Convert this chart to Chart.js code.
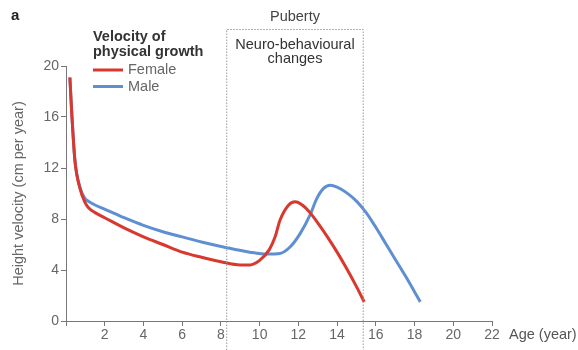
<!DOCTYPE html>
<html>
<head>
<meta charset="utf-8">
<script src="https://cdn.jsdelivr.net/npm/chart.js@4"></script>
<style>
  body { margin: 0; background: #fff; }
  #wrap { width: 578px; height: 350px; position: relative; }
</style>
</head>
<body>
<div id="wrap"><canvas id="myChart"></canvas></div>
<script>
// ages (years) and height velocity (cm per year)
const femaleAge = [0.2, 0.29, 0.46, 0.72, 0.98, 1.15, 1.5, 2, 3, 4, 5, 6, 7, 8, 9, 9.5, 10, 10.5, 10.8, 11.05, 11.5, 11.83, 12.2, 12.6, 13.0, 13.5, 14.0, 14.5, 15.0, 15.4]
const femaleVel = [19.1, 16.5, 12.6, 10.4, 9.3, 8.9, 8.5, 8.1, 7.3, 6.6, 6.0, 5.4, 5.0, 4.65, 4.4, 4.4, 4.75, 5.6, 6.6, 7.9, 9.1, 9.35, 9.1, 8.5, 7.7, 6.6, 5.4, 4.1, 2.7, 1.5]

const maleAge = [0.2, 0.29, 0.46, 0.72, 0.98, 1.15, 1.5, 2.1, 3, 4, 5, 6, 7, 8.3, 9.5, 10.4, 11.05, 11.57, 12.09, 12.6, 12.95, 13.3, 13.64, 14.0, 14.5, 15.0, 15.5, 16.0, 16.5, 17.0, 17.5, 18.3]
const maleVel = [19.1, 16.5, 12.6, 10.5, 9.6, 9.4, 9.1, 8.7, 8.1, 7.5, 7.0, 6.6, 6.2, 5.75, 5.4, 5.25, 5.3, 5.8, 6.85, 8.3, 9.6, 10.4, 10.65, 10.5, 10.05, 9.4, 8.5, 7.35, 6.1, 4.85, 3.6, 1.5]

const xTicks = [0, 2, 4, 6, 8, 10, 12, 14, 16, 18, 20, 22]
const yTicks = [0, 4, 8, 12, 16, 20]
const pubertyStart = 8.3
const pubertyEnd = 15.35

const toPoints = (xs, ys) => xs.map((x, i) => ({ x: x, y: ys[i] }))

const red = '#d8382e'
const blue = '#5f8fd3'
const grey = '#666'
const axisGrey = '#777'
const font = "'Liberation Sans', Arial, sans-serif"

// extra text, legend and the dotted puberty box
const extras = {
  id: 'extras',
  afterDraw(chart) {
    const ctx = chart.ctx
    const xs = chart.scales.x
    ctx.save()

    ctx.fillStyle = '#222'
    ctx.font = 'bold 15px ' + font
    ctx.textBaseline = 'middle'
    ctx.textAlign = 'left'
    ctx.fillText('a', 11, 16)

    // puberty box
    const l = xs.getPixelForValue(pubertyStart)
    const r = xs.getPixelForValue(pubertyEnd)
    ctx.strokeStyle = '#999'
    ctx.lineWidth = 1
    ctx.setLineDash([1.5, 1.5])
    ctx.beginPath()
    ctx.moveTo(l, 350)
    ctx.lineTo(l, 29.5)
    ctx.lineTo(r, 29.5)
    ctx.lineTo(r, 350)
    ctx.stroke()
    ctx.setLineDash([])

    ctx.fillStyle = '#444'
    ctx.font = '14.5px ' + font
    ctx.textAlign = 'center'
    ctx.fillText('Puberty', (l + r) / 2, 17)
    ctx.fillStyle = '#333'
    ctx.fillText('Neuro-behavioural', (l + r) / 2, 45)
    ctx.fillText('changes', (l + r) / 2, 59)

    // legend
    ctx.textAlign = 'left'
    ctx.fillStyle = '#333'
    ctx.font = 'bold 14.5px ' + font
    ctx.fillText('Velocity of', 93, 37)
    ctx.fillText('physical growth', 93, 52)
    ctx.font = '14.5px ' + font
    ctx.lineWidth = 3
    ;[['Female', red, 70], ['Male', blue, 86.5]].forEach(item => {
      ctx.strokeStyle = item[1]
      ctx.beginPath()
      ctx.moveTo(93, item[2])
      ctx.lineTo(123, item[2])
      ctx.stroke()
      ctx.fillStyle = grey
      ctx.fillText(item[0], 128, item[2])
    })

    // x axis label
    ctx.fillStyle = '#555'
    ctx.fillText('Age (year)', 509, 335)
    ctx.restore()
  }
}

const config = {
  type: 'line',
  data: {
    datasets: [
      { label: 'Female', data: toPoints(femaleAge, femaleVel), borderColor: red, borderWidth: 3, pointRadius: 0, cubicInterpolationMode: 'monotone', fill: false },
      { label: 'Male', data: toPoints(maleAge, maleVel), borderColor: blue, borderWidth: 3, pointRadius: 0, cubicInterpolationMode: 'monotone', fill: false }
    ]
  },
  options: {
    responsive: false,
    animation: false,
    layout: { padding: { left: 0, right: 86, top: 66, bottom: 0 } },
    plugins: { legend: { display: false }, tooltip: { enabled: false } },
    scales: {
      x: {
        type: 'linear', min: 0, max: 22,
        afterBuildTicks: s => { s.ticks = xTicks.map(v => ({ value: v })) },
        afterFit: s => { s.height = 29 },
        border: { color: axisGrey, width: 1 },
        grid: { drawOnChartArea: false, drawTicks: true, tickLength: 5, color: axisGrey },
        ticks: { color: grey, font: { family: font, size: 14 }, padding: 1, maxRotation: 0, callback: v => v === 0 ? '' : v }
      },
      y: {
        min: 0, max: 20,
        afterBuildTicks: s => { s.ticks = yTicks.map(v => ({ value: v })) },
        afterFit: s => { s.width = 66 },
        border: { color: axisGrey, width: 1 },
        grid: { drawOnChartArea: false, drawTicks: true, tickLength: 5, color: axisGrey },
        ticks: { color: grey, font: { family: font, size: 14 }, padding: 2 },
        title: { display: true, text: 'Height velocity (cm per year)', color: grey, font: { family: font, size: 14.5 }, padding: { top: 10, bottom: 4 } }
      }
    }
  },
  plugins: [extras]
}

const canvas = document.getElementById('myChart')
canvas.width = 578
canvas.height = 350
const myChart = new Chart(canvas, config)
</script>
</body>
</html>
